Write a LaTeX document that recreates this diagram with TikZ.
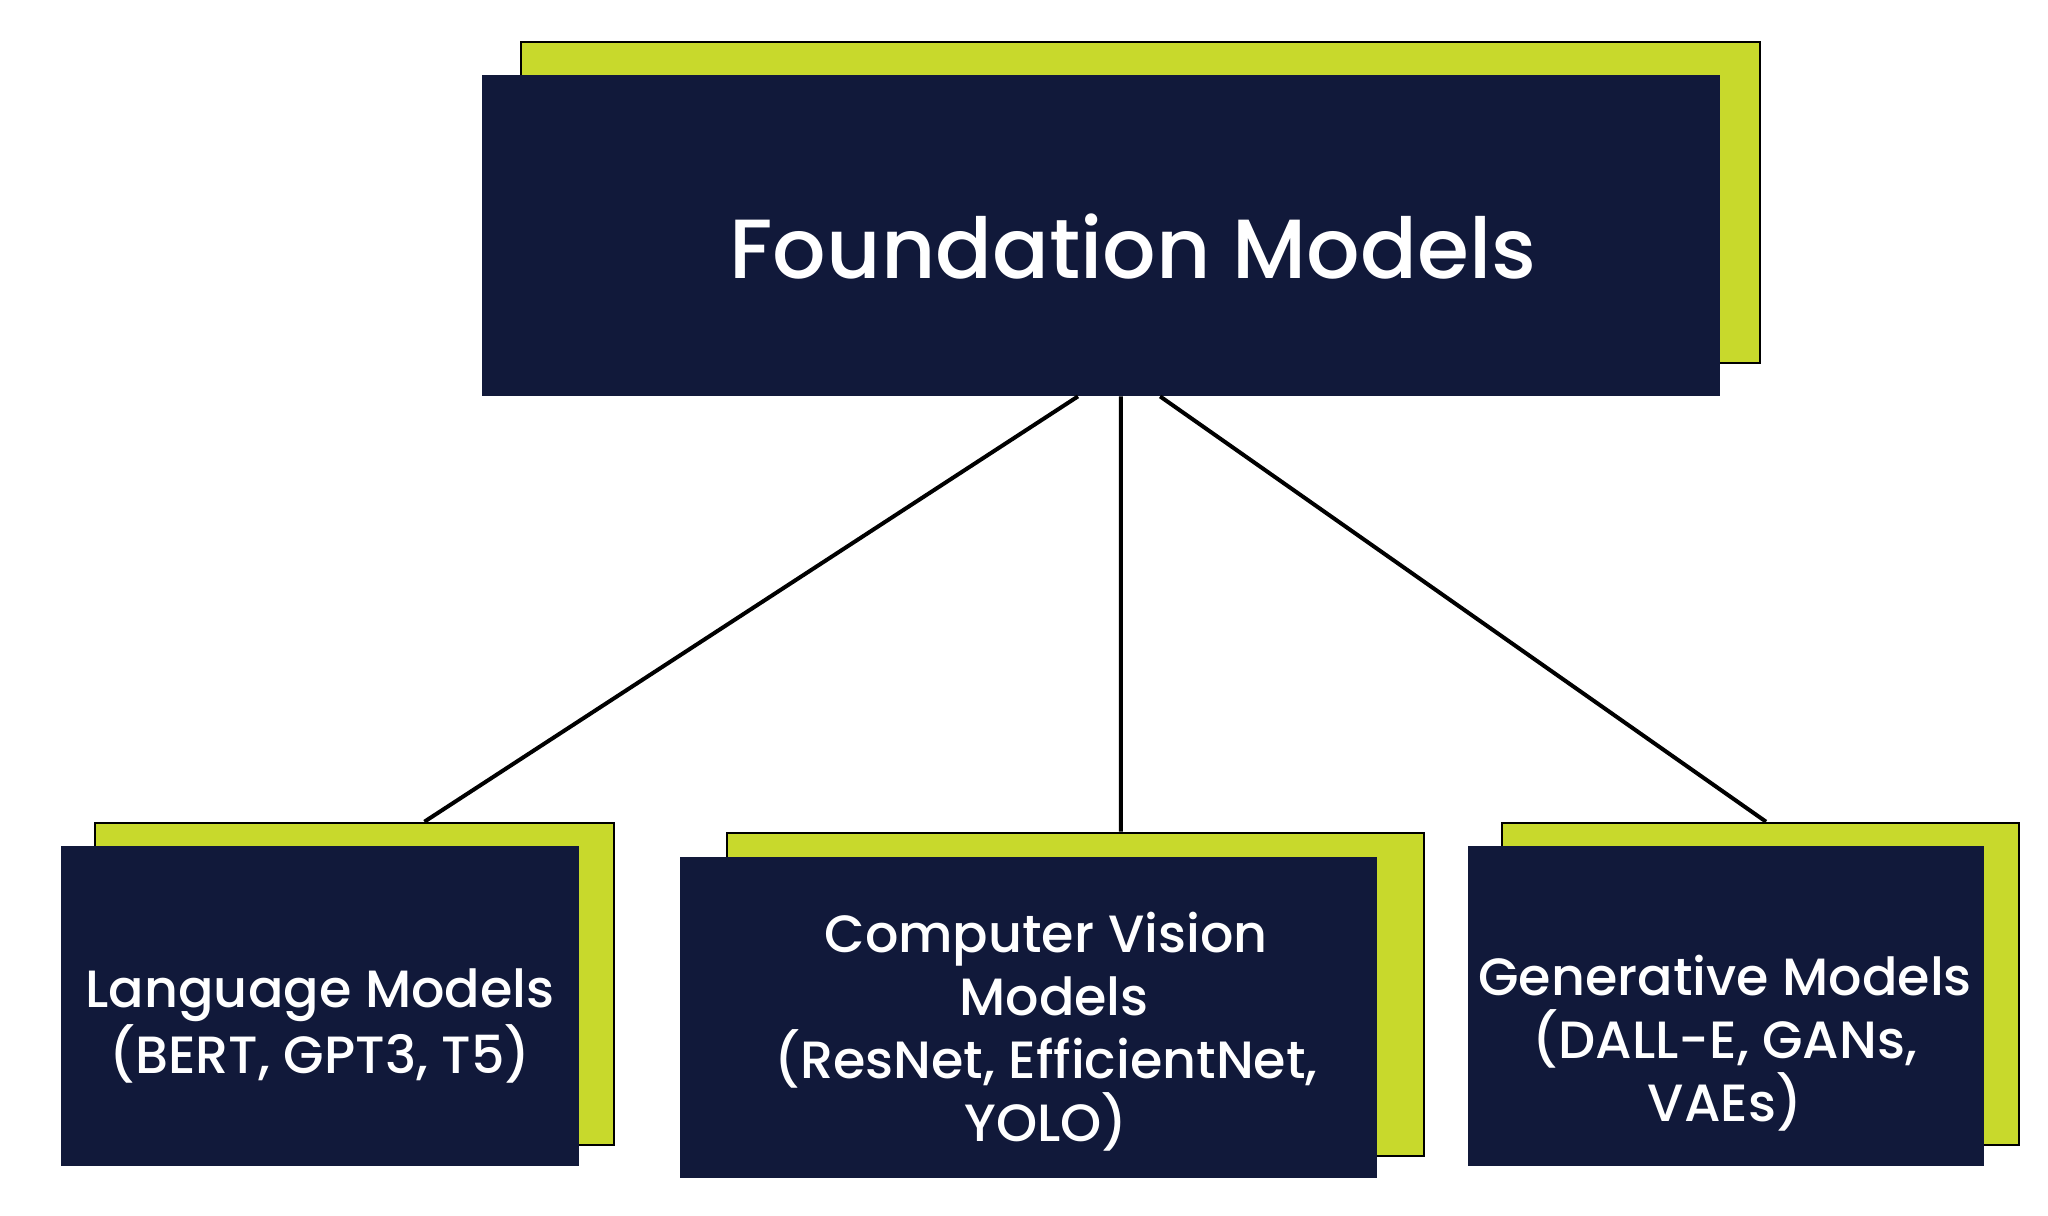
\documentclass[tikz,border=0pt]{standalone}
\usepackage{fontspec}
\setmainfont{Poppins}[UprightFont=* Medium]
\usetikzlibrary{calc}
\definecolor{navy}{HTML}{11193A}
\definecolor{lime}{HTML}{C8D92C}
\begin{document}
\begin{tikzpicture}[x=0.5pt,y=-0.5pt,
  backbox/.style={draw=black,line width=1.3pt,fill=lime,inner sep=0pt},
  frontbox/.style={fill=navy,draw=none,inner sep=0pt},
  bigtext/.style={text=white,font=\fontsize{42}{50}\selectfont,inner sep=0pt},
  smalltext/.style={text=white,font=\fontsize{26.2}{31.5}\selectfont,align=center,inner sep=0pt},
  conn/.style={draw=black,line width=2pt}]
\fill[white] (0,0) rectangle (2048,1215);
\useasboundingbox (0,0) rectangle (2048,1215);

% top
\node[backbox,minimum width=619.5pt,minimum height=160.5pt] (fmg) at (1140.5,202.5) {};
\node[frontbox,minimum width=619pt,minimum height=160.5pt] (fmb) at (1101,235.5) {};
\node[bigtext] (fmt) at (1133,247) {Foundation Models};

% left
\node[backbox,minimum width=259.5pt,minimum height=161pt] (lmg) at (354.5,984) {};
\node[frontbox,minimum width=259pt,minimum height=160pt] (lmb) at (320,1006) {};
\node[smalltext] (lmt) at (320,1026) {Language Models\\(BERT, GPT3, T5)};

% middle
\node[backbox,minimum width=348.5pt,minimum height=161.5pt] (cvg) at (1075.5,994.5) {};
\node[frontbox,minimum width=348.5pt,minimum height=160.5pt] (cvb) at (1028.5,1017.5) {};
\node[smalltext] (cvt) at (1046,1032) {Computer Vision\\\hspace*{8pt}Models\\(ResNet, EfficientNet,\\YOLO)};

% right
\node[backbox,minimum width=258.5pt,minimum height=161pt] (gmg) at (1760.5,984) {};
\node[frontbox,minimum width=258pt,minimum height=160pt] (gmb) at (1726,1006) {};
\node[smalltext] (gmt) at (1725,1043) {Generative Models\\(DALL-E, GANs,\\VAEs)};

% connectors
\draw[conn] ($(fmb.south west)!0.4814!(fmb.south east)$) -- ($(lmg.north west)!0.634!(lmg.north east)$);
\draw[conn] ($(fmb.south west)!0.516!(fmb.south east)$) -- ($(cvg.north west)!0.565!(cvg.north east)$);
\draw[conn] ($(fmb.south west)!0.5477!(fmb.south east)$) -- ($(gmg.north west)!0.5106!(gmg.north east)$);
\end{tikzpicture}
\end{document}
